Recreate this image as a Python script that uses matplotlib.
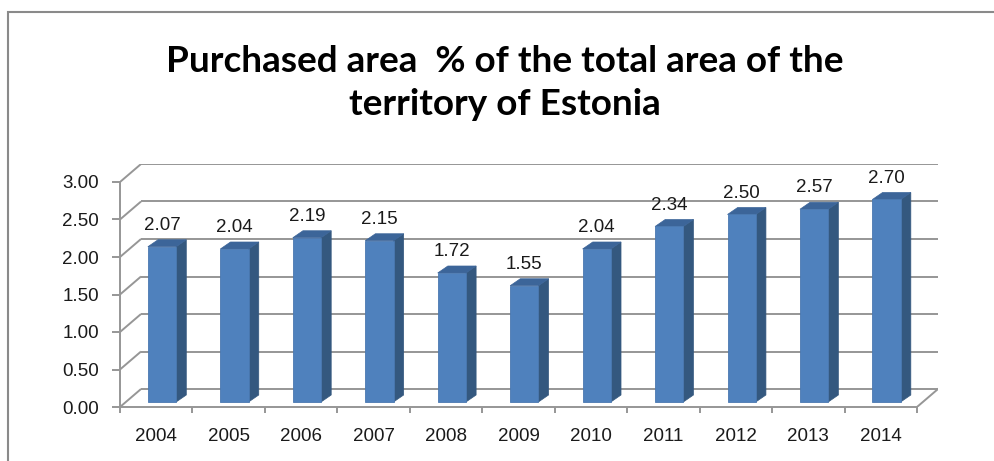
import matplotlib
matplotlib.use("Agg")
import matplotlib.pyplot as plt
from matplotlib.patches import Polygon, Rectangle

years = ["2004", "2005", "2006", "2007", "2008", "2009",
         "2010", "2011", "2012", "2013", "2014"]
values = [2.07, 2.04, 2.19, 2.15, 1.72, 1.55, 2.04, 2.34, 2.50, 2.57, 2.70]
yticks = [0.0, 0.5, 1.0, 1.5, 2.0, 2.5, 3.0]
title_lines = ["Purchased area  % of the total area of the",
               "territory of Estonia"]

FRONT = "#4F81BD"
SIDE = "#34587F"
TOP = "#3C6599"
GRID = "#969696"

# pseudo-3D geometry, in data units
n = len(values)
depth_x, depth_y = 0.29, 0.24        # back wall offset
bar_w = 0.39
bar_dx, bar_dy = 0.14, 0.093          # bar depth
bar_off_x, bar_off_y = 0.08, 0.067    # bar front plane inside the floor

fig = plt.figure(figsize=(9.94, 4.61), dpi=100)
W, H = 994, 461
ax = fig.add_axes([120 / W, (H - 407) / H, 818 / W, 243 / H])
ax.set_xlim(0, n + depth_x)
ax.set_ylim(0, 3.0 + depth_y)

# left wall diagonals and back wall gridlines
for v in yticks:
    ax.plot([0, depth_x], [v, v + depth_y], color=GRID, lw=1.4,
            solid_capstyle="butt", zorder=1)
    ax.plot([depth_x, n + depth_x], [v + depth_y, v + depth_y], color=GRID,
            lw=1.4, solid_capstyle="butt", zorder=1)
# right edge of the floor
ax.plot([n, n + depth_x], [0, depth_y], color=GRID, lw=1.4, zorder=1)

# bars: front faces plus side and top faces
centers = [i + 0.5 + bar_off_x for i in range(n)]
ax.bar(centers, values, width=bar_w, bottom=bar_off_y, color=FRONT,
       edgecolor="#4A78B0", linewidth=0.6, zorder=3)
for c, v in zip(centers, values):
    x0, x1 = c - bar_w / 2, c + bar_w / 2
    y0, y1 = bar_off_y, bar_off_y + v
    side = Polygon([(x1, y0), (x1 + bar_dx, y0 + bar_dy),
                    (x1 + bar_dx, y1 + bar_dy), (x1, y1)],
                   closed=True, facecolor=SIDE, edgecolor=SIDE, lw=0.5, zorder=2)
    top = Polygon([(x0, y1), (x0 + bar_dx, y1 + bar_dy),
                   (x1 + bar_dx, y1 + bar_dy), (x1, y1)],
                  closed=True, facecolor=TOP, edgecolor=TOP, lw=0.5, zorder=2)
    ax.add_patch(side)
    ax.add_patch(top)
    ax.text(c, y1 + bar_dy + 0.19, f"{v:.2f}", ha="center", va="center",
            fontsize=13.5, family="Liberation Sans", color="#1a1a1a")

# axes styling
for s in ("top", "right"):
    ax.spines[s].set_visible(False)
for s in ("left", "bottom"):
    ax.spines[s].set_color(GRID)
    ax.spines[s].set_linewidth(1.4)
ax.spines["left"].set_bounds(0, 3.0)
ax.spines["bottom"].set_bounds(0, n)

ax.set_yticks(yticks)
ax.set_yticklabels([f"{t:.2f}" for t in yticks])
ax.tick_params(axis="y", direction="out", length=5.8, width=1.4, color=GRID,
               pad=9.5, labelsize=13.5, labelcolor="#1a1a1a")

ax.set_xticks(range(n + 1))
ax.set_xticklabels([])
ax.tick_params(axis="x", which="major", direction="out", length=4.5, width=1.4,
               color=GRID)
ax.set_xticks([i + 0.5 for i in range(n)], minor=True)
ax.set_xticklabels(years, minor=True)
ax.tick_params(axis="x", which="minor", length=0, pad=15, labelsize=13.5,
               labelcolor="#1a1a1a")
for lab in ax.get_yticklabels() + ax.get_xticklabels(minor=True):
    lab.set_family("Liberation Sans")

ax.patch.set_visible(False)

# title
fig.text(505 / W, 1 - 72 / H, title_lines[0], ha="center", va="baseline",
         fontsize=26.6, fontweight="bold", family="Lato", color="black")
fig.text(505 / W, 1 - 115 / H, title_lines[1], ha="center", va="baseline",
         fontsize=26.6, fontweight="bold", family="Lato", color="black")

# chart area border
fig.patches.append(Rectangle((8 / W, -0.1), 2.0, 1.1 - 12 / H,
                             transform=fig.transFigure, fill=False,
                             edgecolor="#8a8a8a", lw=1.5))

fig.savefig("out.png", dpi=100)
